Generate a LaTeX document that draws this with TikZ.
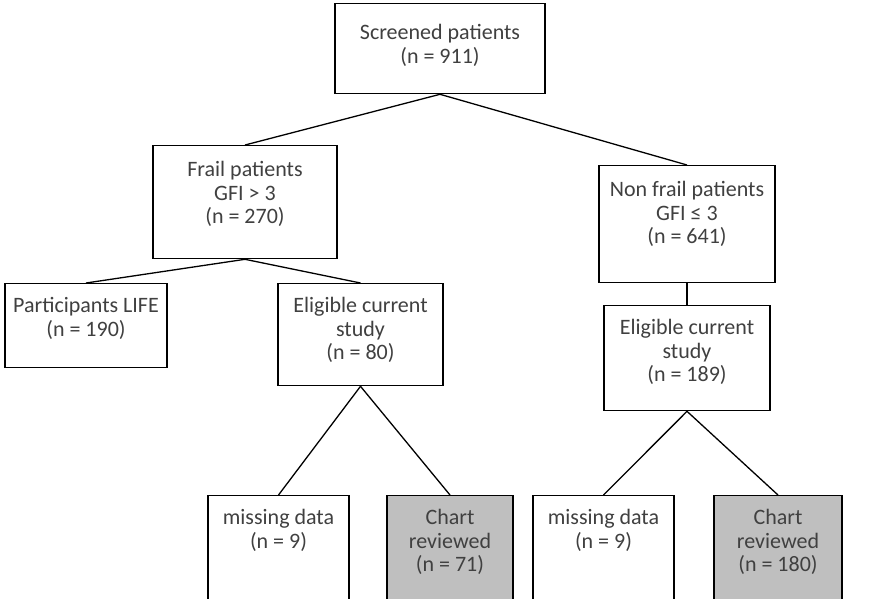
\documentclass[tikz,border=0pt]{standalone}
\usepackage{fontspec}
\setmainfont{Carlito}

% box contents: width, height, first baseline, lines of text (top aligned)
\newcommand{\cell}[4]{\parbox[c][#2pt][t]{#1pt}{\centering\rule{0pt}{#3pt}#4}}

\tikzset{
  box/.style={draw=black, line width=1.3pt, inner sep=0pt, anchor=north,
    text=black!75, font=\fontsize{22}{23.5}\selectfont},
  greybox/.style={box, fill=black!25},
  link/.style={draw=black, line width=1.3pt}
}

\begin{document}
\begin{tikzpicture}[x=1pt,y=-1pt]

\clip (0,0) rectangle (880,598);
\fill[white] (0,0) rectangle (880,598);

% Top level
\node[box] (screened) at (440,3) {\cell{210}{90}{36}{Screened patients\\(n = 911)}};

% Frail / non frail
\node[box] (frail)    at (245,145) {\cell{184}{113}{31}{Frail patients\\GFI > 3\\(n = 270)}};
\node[box] (nonfrail) at (687,165) {\cell{176}{117}{31}{Non frail patients\\GFI ≤ 3\\(n = 641)}};

% Third row
\node[box] (life)  at (86,283)    {\cell{162}{84}{29}{Participants LIFE\\(n = 190)}};
\node[box] (eligA) at (360.5,283) {\cell{165}{102}{29}{Eligible current\\study\\(n = 80)}};
\node[box] (eligB) at (687,305)   {\cell{166}{105}{29}{Eligible current\\study\\(n = 189)}};

% Bottom row
\node[box]     (missA)  at (278.5,495) {\cell{141}{120}{29}{missing data\\(n = 9)}};
\node[greybox] (chartA) at (450,495)   {\cell{126}{120}{29}{Chart\\reviewed\\(n = 71)}};
\node[box]     (missB)  at (603.5,495) {\cell{141}{120}{29}{missing data\\(n = 9)}};
\node[greybox] (chartB) at (778,495)   {\cell{128}{120}{29}{Chart\\reviewed\\(n = 180)}};

% Connectors
\draw[link] (screened.south) -- (frail.north);
\draw[link] (screened.south) -- (nonfrail.north);
\draw[link] (frail.south) -- (life.north);
\draw[link] (frail.south) -- (eligA.north);
\draw[link] (nonfrail.south) -- (eligB.north);
\draw[link] (eligA.south) -- (missA.north);
\draw[link] (eligA.south) -- (chartA.north);
\draw[link] (eligB.south) -- (missB.north);
\draw[link] (eligB.south) -- (chartB.north);

\end{tikzpicture}
\end{document}
